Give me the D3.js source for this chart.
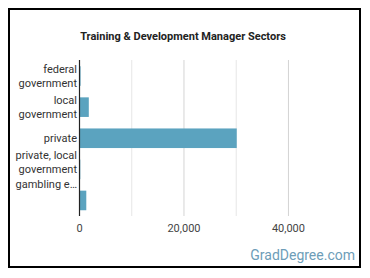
<!DOCTYPE html>
<html><head><meta charset="utf-8">
<script src="https://cdn.jsdelivr.net/npm/d3@7"></script>
<style>
html,body{margin:0;padding:0;background:#fff;}
svg{display:block;font-family:Roboto,"Noto Sans",sans-serif;}
</style></head>
<body>
<svg id="c" width="370" height="278"></svg>
<script>
const title = "Training & Development Manager Sectors";
const categories = ["federal government", "local government", "private", "private, local government gambling e\u2026", ""];
const labelLines = [["federal","government"],["local","government"],["private"],["private, local","government","gambling e\u2026"],[]];
const values = [200, 1780, 30100, 150, 1300];
const tickValues = [0, 10000, 20000, 30000, 40000];
const tickLabels = ["0", "", "20,000", "", "40,000"];

const svg = d3.select("#c");
svg.append("rect").attr("x",9).attr("y",9).attr("width",351).attr("height",258)
  .attr("fill","#fff").attr("stroke","#000").attr("stroke-width",2);

svg.append("text").attr("x",183).attr("y",40).attr("text-anchor","middle")
  .attr("font-size",11).attr("font-weight","bold").attr("fill","#222").text(title);

const x = d3.scaleLinear().domain([0,50000]).range([79.5,340.7]);
const y = d3.scaleBand().domain(categories).range([60.5,216]).paddingInner(0.37).paddingOuter(0.185);

// gridlines
svg.append("g").selectAll("line").data(tickValues.slice(1)).join("line")
  .attr("x1",d=>x(d)).attr("x2",d=>x(d)).attr("y1",60).attr("y2",216)
  .attr("stroke",(d,i)=>i%2===0?"#e6e6e6":"#d4d4d4").attr("stroke-width",1);

// bars
svg.append("g").selectAll("rect").data(values).join("rect")
  .attr("x",x(0)).attr("y",(d,i)=>y(categories[i]))
  .attr("width",d=>x(d)-x(0)).attr("height",y.bandwidth())
  .attr("fill","#5ba3bf");

// y axis line
svg.append("line").attr("x1",x(0)).attr("x2",x(0)).attr("y1",60).attr("y2",216)
  .attr("stroke","#222").attr("stroke-width",1.2);

// y labels
const yl = svg.append("g");
categories.forEach((c,i)=>{
  const lines = labelLines[i];
  const cy = y(c)+y.bandwidth()/2;
  const lh = 14.5;
  const t = yl.append("text").attr("text-anchor","end").attr("font-size",11).attr("fill","#333");
  lines.forEach((ln,j)=>{
    t.append("tspan").attr("x",77).attr("y",cy + (j-(lines.length-1)/2)*lh + 4).text(ln);
  });
});

// x tick labels
svg.append("g").selectAll("text").data(tickValues).join("text")
  .attr("x",d=>x(d)).attr("y",232).attr("text-anchor","middle")
  .attr("font-size",11).attr("fill","#444").text((d,i)=>tickLabels[i]);

svg.append("text").attr("x",355).attr("y",260).attr("text-anchor","end")
  .attr("font-size",14).attr("fill","#6d9db8").text("GradDegree.com");
</script>
</body></html>
